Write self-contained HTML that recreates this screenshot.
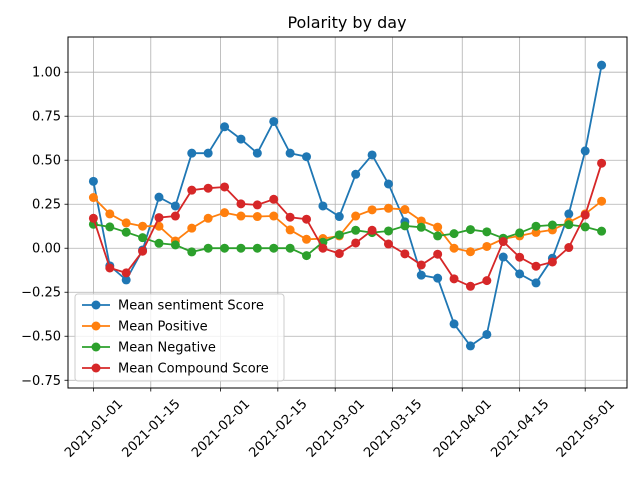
<!DOCTYPE html>
<html><head><meta charset="utf-8"><style>
body{margin:0;background:#fff;}
svg{display:block;font-family:"DejaVu Sans","Liberation Sans",sans-serif;}
</style></head><body>
<svg id="chart" width="640" height="480" viewBox="0 0 640 480" xmlns="http://www.w3.org/2000/svg">
<rect width="640" height="480" fill="#fff"/>
<text x="347" y="28" font-size="16" text-anchor="middle" fill="#000">Polarity by day</text>
<g id="grid"></g>
<g id="series"></g>
<rect x="68" y="37" width="559" height="351" fill="none" stroke="#000" stroke-width="1"/>
<g id="axes"></g>
<g id="legend"></g>
</svg>
<script>
const dayOffsets = [0,4,8,12,16,20,24,28,32,36,40,44,48,52,56,60,64,68,72,76,80,84,88,92,96,100,104,108,112,116,120,124];
const meanSentiment = [0.38,-0.10,-0.18,-0.01,0.29,0.24,0.54,0.54,0.69,0.62,0.54,0.72,0.54,0.52,0.24,0.18,0.42,0.53,0.365,0.15,-0.153,-0.17,-0.43,-0.555,-0.49,-0.05,-0.146,-0.197,-0.057,0.195,0.553,1.04];
const meanPositive = [0.288,0.195,0.144,0.125,0.125,0.041,0.114,0.17,0.202,0.183,0.18,0.183,0.104,0.051,0.055,0.07,0.183,0.218,0.227,0.22,0.155,0.12,0.0,-0.02,0.01,0.053,0.07,0.09,0.104,0.148,0.195,0.267];
const meanNegative = [0.136,0.121,0.091,0.06,0.028,0.019,-0.021,0,0,0,0,0,0,-0.042,0.034,0.076,0.102,0.089,0.098,0.127,0.119,0.07,0.083,0.106,0.093,0.057,0.087,0.125,0.132,0.134,0.121,0.097];
const meanCompound = [0.17,-0.112,-0.14,-0.017,0.174,0.183,0.33,0.341,0.348,0.252,0.246,0.278,0.176,0.165,0.0,-0.03,0.03,0.102,0.024,-0.032,-0.095,-0.034,-0.174,-0.216,-0.184,0.038,-0.051,-0.102,-0.078,0.004,0.189,0.483];
const yTicks = [-0.75,-0.5,-0.25,0,0.25,0.5,0.75,1.0];
const yTickLabels = ["\u22120.75","\u22120.50","\u22120.25","0.00","0.25","0.50","0.75","1.00"];
const xTickDays = [0,14,31,45,59,73,90,104,120];
const xTickLabels = ["2021-01-01","2021-01-15","2021-02-01","2021-02-15","2021-03-01","2021-03-15","2021-04-01","2021-04-15","2021-05-01"];
const seriesNames = ["Mean sentiment Score","Mean Positive","Mean Negative","Mean Compound Score"];
const seriesColors = ["#1f77b4","#ff7f0e","#2ca02c","#d62728"];

const NS="http://www.w3.org/2000/svg";
const X0=68,X1=627,Y0=37,Y1=388;
const xmin=-6.2,xmax=130.2,ymin=-0.794,ymax=1.2;
const xs=d=>X0+(d-xmin)/(xmax-xmin)*(X1-X0);
const ys=v=>Y1-(v-ymin)/(ymax-ymin)*(Y1-Y0);
function mk(tag,attrs,parent){const e=document.createElementNS(NS,tag);for(const k in attrs)e.setAttribute(k,attrs[k]);parent.appendChild(e);return e;}
const grid=document.getElementById('grid'),axes=document.getElementById('axes'),ser=document.getElementById('series'),leg=document.getElementById('legend');
yTicks.forEach((t,i)=>{
  const y=ys(t);
  const g=mk('line',{x1:X0,x2:X1,y1:y,y2:y,stroke:'#b0b0b0','stroke-width':0.8},grid);
  
  
  const tk=mk('line',{x1:X0-3.5,x2:X0,y1:y,y2:y,stroke:'#000','stroke-width':0.8},axes);
  
  
  const tx=mk('text',{x:X0-7,y:y+4.5,'font-size':13,'text-anchor':'end',fill:'#000'},axes);
  
  
  tx.textContent=yTickLabels[i];
});
xTickDays.forEach((d,i)=>{
  const x=xs(d);
  const g=mk('line',{x1:x,x2:x,y1:Y0,y2:Y1,stroke:'#b0b0b0','stroke-width':0.8},grid);
  
  
  const tk=mk('line',{x1:x,x2:x,y1:Y1,y2:Y1+3.5,stroke:'#000','stroke-width':0.8},axes);
  
  
  const cy=Y1+40;
  const tx=mk('text',{x:x,y:cy+4.5,'font-size':13,'text-anchor':'middle',fill:'#000',transform:`rotate(-45 ${x} ${cy})`},axes);
  
  
  tx.textContent=xTickLabels[i];
});
[meanSentiment,meanPositive,meanNegative,meanCompound].forEach((vals,si)=>{
  const g=mk('g',{},ser);
  
  
  const pts=vals.map((v,i)=>xs(dayOffsets[i]).toFixed(1)+','+ys(v).toFixed(1)).join(' ');
  const pl=mk('polyline',{points:pts,fill:'none',stroke:seriesColors[si],'stroke-width':1.8},g);
  
  
  vals.forEach((v,i)=>{
    const c=mk('circle',{cx:xs(dayOffsets[i]),cy:ys(v),r:4.5,fill:seriesColors[si]},g);
    
    
  });
});
const lb=mk('rect',{x:75,y:294,width:209,height:87,rx:3,fill:'#fff','fill-opacity':0.8,stroke:'#ccc','stroke-width':1},leg);


seriesNames.forEach((n,i)=>{
  const y=305+i*21;
  const g=mk('g',{},leg);
  
  
  mk('line',{x1:82,x2:110,y1:y,y2:y,stroke:seriesColors[i],'stroke-width':1.8},g);
  mk('circle',{cx:96,cy:y,r:4.5,fill:seriesColors[i]},g);
  const t=mk('text',{x:118,y:y+4.5,'font-size':13,fill:'#000'},g);
  t.textContent=n;
});
</script>
</body></html>
